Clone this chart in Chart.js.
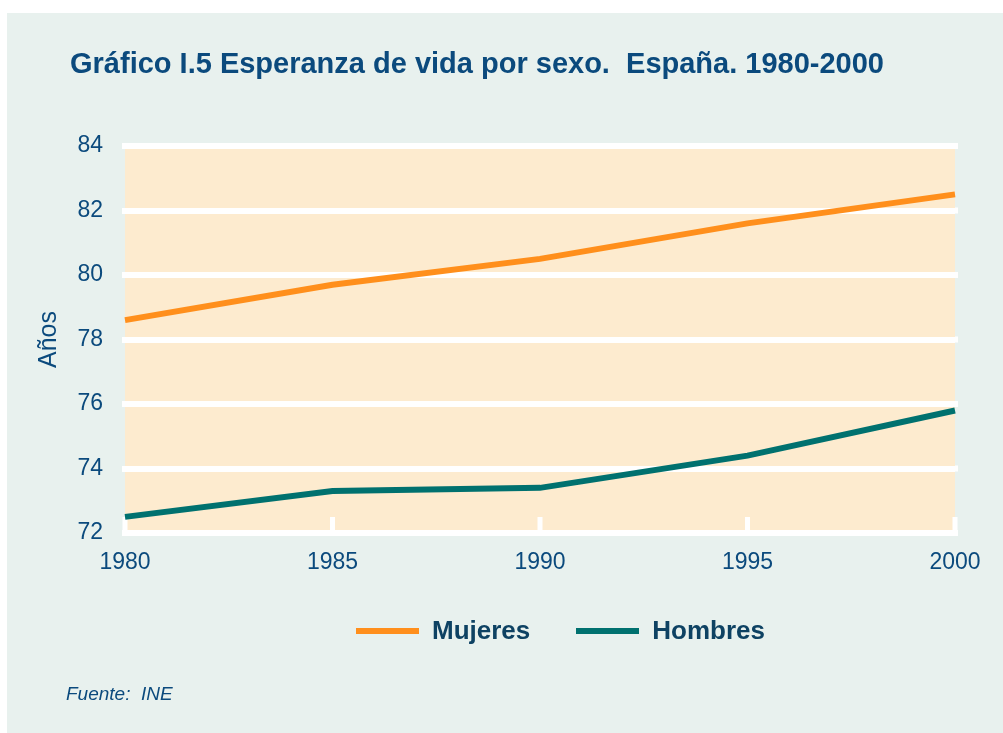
<!DOCTYPE html>
<html lang="es">
<head>
<meta charset="utf-8">
<title>Esperanza de vida por sexo</title>
<script src="https://cdn.jsdelivr.net/npm/chart.js@4/dist/chart.umd.min.js"></script>
<style>
  html, body { margin: 0; padding: 0; background: #ffffff; }
  body { width: 1003px; height: 733px; position: relative; overflow: hidden;
         font-family: "Liberation Sans", Arial, sans-serif; }
  #panel { position: absolute; left: 7px; top: 13px; right: 0; bottom: 0; background: #e8f1ee; }
  #grafico { position: absolute; left: 0; top: 0; }
  #titulo { position: absolute; left: 70px; top: 47px; margin: 0; font-size: 29px; line-height: 33px;
            font-weight: bold; color: #0b4a7d; white-space: pre; }
  #leyenda { position: absolute; left: 356px; top: 615px; display: flex; align-items: center; }
  .item { display: flex; align-items: center; margin-right: 46px; }
  .item:last-child { margin-right: 0; }
  .muestra { width: 63px; height: 6px; margin-right: 13px; }
  .texto { font-size: 26px; font-weight: bold; color: #0e4263; }
  #fuente { position: absolute; left: 66px; top: 683px; font-size: 19px; font-style: italic; color: #0b4a7d; white-space: pre; }
</style>
</head>
<body>
<div id="panel"></div>
<canvas id="grafico" width="1003" height="733"></canvas>
<h1 id="titulo">Gráfico I.5 Esperanza de vida por sexo.  España. 1980-2000</h1>
<div id="leyenda"></div>
<div id="fuente">Fuente:  INE</div>

<script>
// --- Datos ---
const anios = ["1980", "1985", "1990", "1995", "2000"];
const mujeres = [78.6, 79.7, 80.5, 81.6, 82.5];
const hombres = [72.5, 73.3, 73.4, 74.4, 75.8];
const ticksY = [72, 74, 76, 78, 80, 82, 84];

const corMujeres = "#ff8f1c";
const corHombres = "#00716f";
const corTexto = "#0b4a7d";

// --- Fundo do área do gráfico ---
const fundoArea = {
  id: "fundoArea",
  beforeDraw(chart) {
    const { ctx, chartArea: a } = chart;
    ctx.save();
    ctx.fillStyle = "#fdebcf";
    ctx.fillRect(a.left, a.top, a.right - a.left, a.bottom - a.top);
    ctx.restore();
  }
};

// --- Marcas internas do eixo X e extensão da grade à direita ---
const marcasX = {
  id: "marcasX",
  beforeDatasetsDraw(chart) {
    const { ctx, chartArea: a, scales } = chart;
    const x = scales.x;
    ctx.save();
    ctx.fillStyle = "#ffffff";
    x.ticks.forEach((t, i) => {
      const px = x.getPixelForTick(i);
      ctx.fillRect(px - 2.5, a.bottom - 16, 5, 16);
    });
    scales.y.ticks.forEach((t, i) => {
      const py = scales.y.getPixelForTick(i);
      ctx.fillRect(a.right, py - 3, 3, 6);
    });
    ctx.restore();
  }
};

const ctx = document.getElementById("grafico").getContext("2d");
const grafico = new Chart(ctx, {
  type: "line",
  data: {
    labels: anios,
    datasets: [
      { label: "Mujeres", data: mujeres, borderColor: corMujeres, backgroundColor: corMujeres,
        borderWidth: 6, pointRadius: 0, tension: 0, borderCapStyle: "butt" },
      { label: "Hombres", data: hombres, borderColor: corHombres, backgroundColor: corHombres,
        borderWidth: 6, pointRadius: 0, tension: 0, borderCapStyle: "butt" }
    ]
  },
  options: {
    responsive: false,
    animation: false,
    layout: { padding: { left: 30, right: 48, top: 146, bottom: 150 } },
    plugins: {
      legend: { display: false },
      title: { display: false },
      tooltip: { enabled: false }
    },
    scales: {
      x: {
        offset: false,
        grid: { display: false, drawOnChartArea: false, drawTicks: false },
        border: { display: false },
        ticks: { color: corTexto, font: { family: "Liberation Sans", size: 23 }, padding: 16, maxRotation: 0 },
        afterFit(s) { s.height = 50; }
      },
      y: {
        min: 72,
        max: 84,
        afterBuildTicks(s) { s.ticks = ticksY.map(v => ({ value: v })); },
        grid: { color: "#ffffff", lineWidth: 6, tickLength: 3, tickColor: "#ffffff", tickWidth: 6 },
        border: { display: false },
        ticks: { color: corTexto, font: { family: "Liberation Sans", size: 23 }, padding: 19 },
        title: { display: true, text: "Años", color: corTexto, font: { family: "Liberation Sans", size: 25 }, padding: 4 },
        afterFit(s) { s.width = 95; }
      }
    }
  },
  plugins: [fundoArea, marcasX]
});

// --- Legenda em HTML a partir dos datasets ---
const leyenda = document.getElementById("leyenda");
grafico.data.datasets.forEach(ds => {
  const item = document.createElement("div");
  item.className = "item";
  item.innerHTML = `<div class="muestra" style="background:${ds.borderColor}"></div><span class="texto">${ds.label}</span>`;
  leyenda.appendChild(item);
});
</script>
</body>
</html>
